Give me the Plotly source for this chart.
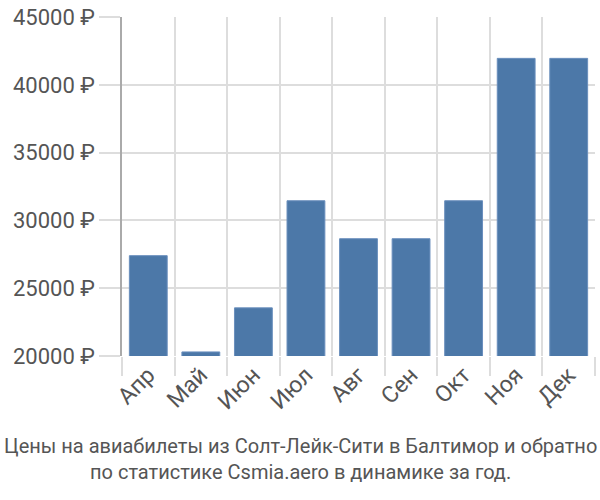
import plotly.graph_objects as go

months = ["Апр", "Май", "Июн", "Июл", "Авг", "Сен", "Окт", "Ноя", "Дек"]
prices = [27400, 20300, 23550, 31450, 28650, 28650, 31450, 41950, 41950]
y_ticks = [20000, 25000, 30000, 35000, 40000, 45000]
y_tick_text = [f"{v} ₽" for v in y_ticks]
title_lines = ["Цены на авиабилеты из Солт-Лейк-Сити в Балтимор и обратно",
               "по статистике Csmia.aero в динамике за год."]

font_family = "Roboto, DejaVu Sans, sans-serif"
grid_color = "#dddddd"
W, H = 600, 500
ML, MR, MT, MB = 122, 5, 15, 144

fig = go.Figure()
fig.add_trace(go.Bar(x=months, y=prices, marker=dict(color="#4c78a8", line=dict(width=1, color="#6a8fbd")),
                     width=0.72, xaxis="x", yaxis="y", hoverinfo="skip"))
n = len(months)
bounds = [i - 0.5 for i in range(n + 1)]
fig.add_trace(go.Scatter(x=[bounds[0], bounds[-1]], y=[y_ticks[0], y_ticks[0]], mode="markers",
                         marker=dict(opacity=0), xaxis="x2", yaxis="y", hoverinfo="skip", showlegend=False))

plot_w = W - ML - MR
plot_h = H - MT - MB
center_x = (W / 2 - ML) / plot_w

fig.update_layout(
    width=W, height=H,
    margin=dict(l=ML, r=MR, t=MT, b=MB),
    plot_bgcolor="white", paper_bgcolor="white",
    showlegend=False,
    font=dict(family=font_family, color="#555555"),
    xaxis=dict(type="category", range=[-0.5, n - 0.5], showgrid=False, tickangle=-45,
               ticks="", tickfont=dict(size=23, color="#555555"), showline=False, zeroline=False),
    xaxis2=dict(overlaying="x", range=[bounds[0], bounds[-1]], tickvals=bounds, showticklabels=False,
                showgrid=True, gridcolor=grid_color, gridwidth=1.5, ticks="outside", ticklen=19,
                tickcolor=grid_color, tickwidth=1.5, side="bottom", zeroline=False, showline=False),
    yaxis=dict(range=[y_ticks[0], y_ticks[-1]], tickvals=y_ticks, ticktext=y_tick_text,
               showgrid=True, gridcolor=grid_color, gridwidth=1.5, ticks="outside", ticklen=21,
               tickcolor=grid_color, tickwidth=1.5, tickfont=dict(size=22, color="#555555"),
               showline=True, linecolor="#aaaaaa", linewidth=1.5, zeroline=False),
)
for text, ypix in zip(title_lines, [447, 473]):
    fig.add_annotation(text=text, x=center_x, y=(H - MB - ypix) / plot_h, xref="paper", yref="paper",
                       xanchor="center", yanchor="middle", showarrow=False,
                       font=dict(size=20, color="#555555"))

fig.write_html("out.html")
